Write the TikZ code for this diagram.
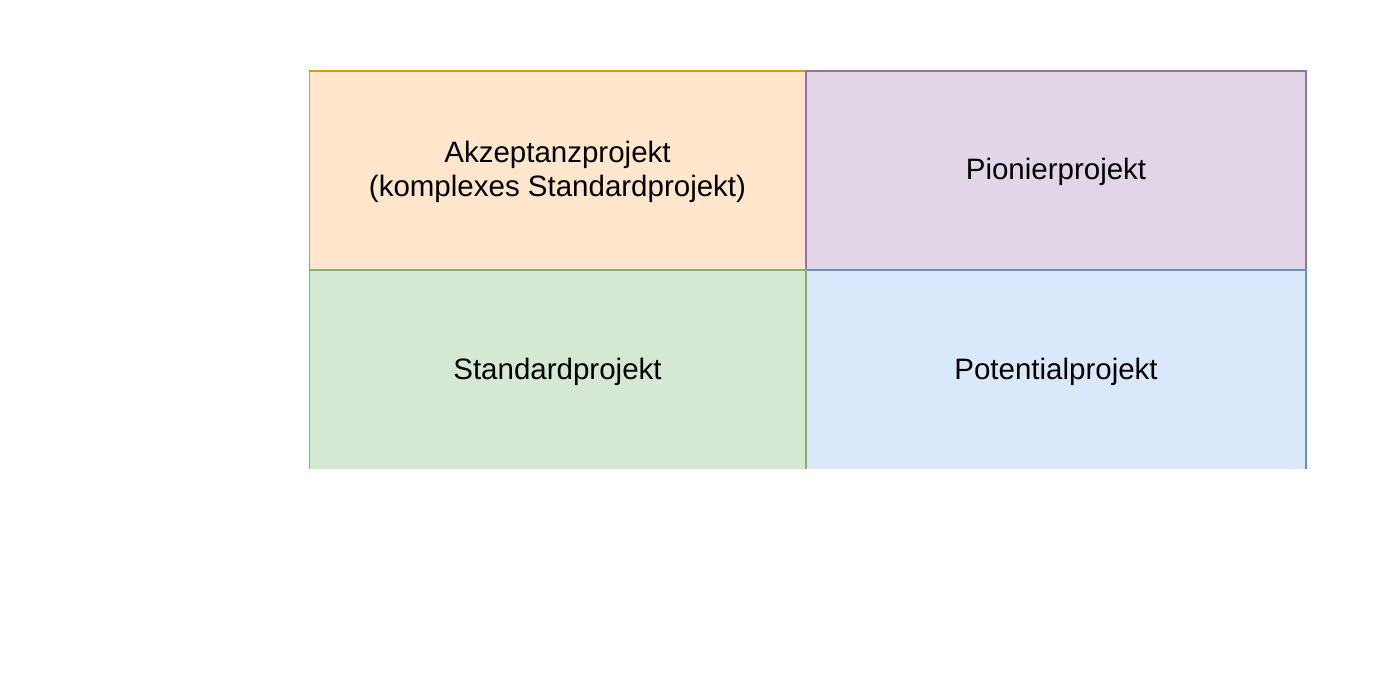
\documentclass[tikz,border=0pt]{standalone}
\usepackage{fontspec}
\setmainfont{Liberation Sans}
\definecolor{ofill}{HTML}{FFE6CC}\definecolor{odraw}{HTML}{D79B00}
\definecolor{pfill}{HTML}{E1D5E7}\definecolor{pdraw}{HTML}{9673A6}
\definecolor{gfill}{HTML}{D5E8D4}\definecolor{gdraw}{HTML}{82B366}
\definecolor{bfill}{HTML}{DAE8FC}\definecolor{bdraw}{HTML}{6C8EBF}
\begin{document}
\begin{tikzpicture}[x=1pt,y=-1pt,
  cell/.style={line width=2pt,font=\fontsize{29.5}{34}\selectfont,align=center}]
\useasboundingbox[fill=white] (0,0) rectangle (1380,673);
\begin{scope}
\clip (309,69) rectangle (1308,468);
\draw[cell,fill=ofill,draw=odraw] (309,71) rectangle (806,270);
\draw[cell,fill=pfill,draw=pdraw] (806,71) rectangle (1306,270);
\draw[cell,fill=bfill,draw=bdraw] (806,270) rectangle (1306,470);
\draw[cell,fill=gfill,draw=gdraw] (309,270) rectangle (806,470);
\end{scope}
\node[cell] (a) at (557.5,172) {Akzeptanzprojekt\\(komplexes Standardprojekt)};
\node[cell] (p) at (1056,172) {Pionierprojekt};
\node[cell] (s) at (557.5,372) {Standardprojekt};
\node[cell] (t) at (1056,372) {Potentialprojekt};
\end{tikzpicture}
\end{document}
